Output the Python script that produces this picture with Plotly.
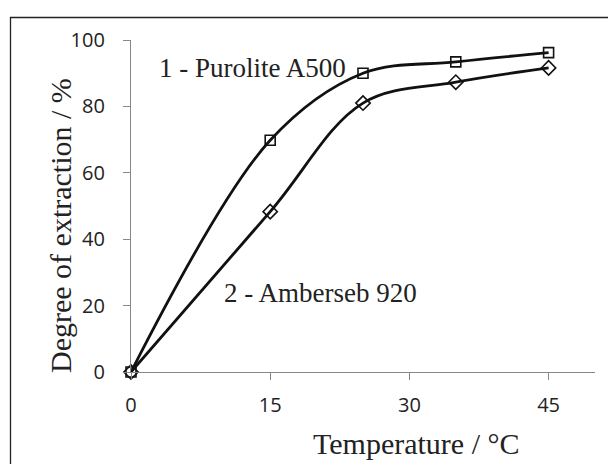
import plotly.graph_objects as go

temperature = [0, 15, 25, 35, 45]
purolite = [0, 69.8, 90.0, 93.4, 96.2]
amberseb = [0, 48.3, 81.0, 87.3, 91.6]
x_ticks = [0, 15, 30, 45]
y_ticks = [0, 20, 40, 60, 80, 100]

W, H = 616, 464
OFF = 8  # page body margin offset in the screenshot
L, R, T, B = 123, 29, 32, 100
pw, ph = W - L - R, H - T - B

def px(x):
    return (x - OFF - L) / pw

def py(y):
    return (H - B - (y - OFF)) / ph

fig = go.Figure()
fig.add_trace(go.Scatter(
    x=temperature, y=purolite, mode="lines+markers",
    line=dict(color="#111", width=2.8, shape="spline", smoothing=1.0),
    marker=dict(symbol="square-open", size=10, color="#111", line=dict(width=1.6)),
    cliponaxis=False, showlegend=False))
fig.add_trace(go.Scatter(
    x=temperature, y=amberseb, mode="lines+markers",
    line=dict(color="#111", width=2.8, shape="spline", smoothing=1.0),
    marker=dict(symbol="diamond-open", size=11, color="#111", line=dict(width=1.6)),
    cliponaxis=False, showlegend=False))

tickfont = dict(family="Open Sans, DejaVu Sans, sans-serif", size=20, color="#222")
fig.update_xaxes(range=[0, 50], tickvals=x_ticks, ticks="outside", ticklen=7,
                 tickcolor="#888", showline=True, linecolor="#888", linewidth=1.3,
                 showgrid=False, zeroline=False, tickfont=tickfont, ticklabelstandoff=8)
fig.update_yaxes(range=[0, 100], tickvals=y_ticks, ticks="outside", ticklen=7,
                 tickcolor="#888", showline=True, linecolor="#888", linewidth=1.3,
                 showgrid=False, zeroline=False, tickfont=tickfont, ticklabelstandoff=14)

serif_big = dict(family="Liberation Serif, Times New Roman, serif", size=30, color="#222")
serif = dict(family="Liberation Serif, Times New Roman, serif", size=27, color="#222")
fig.add_annotation(text="1 - Purolite A500", x=px(157), y=py(68), xref="paper", yref="paper",
                   xanchor="left", yanchor="middle", showarrow=False, font=serif)
fig.add_annotation(text="2 - Amberseb 920", x=px(222), y=py(293), xref="paper", yref="paper",
                   xanchor="left", yanchor="middle", showarrow=False, font=serif)
fig.add_annotation(text="Temperature / °C", x=px(416), y=py(443), xref="paper", yref="paper",
                   xanchor="center", yanchor="middle", showarrow=False, font=serif_big)
fig.add_annotation(text="Degree of extraction / %", x=px(60), y=py(226), xref="paper", yref="paper",
                   xanchor="center", yanchor="middle", showarrow=False, font=serif_big, textangle=-90)

fig.add_shape(type="rect", xref="paper", yref="paper",
              x0=px(10.5), x1=px(611), y0=py(480), y1=py(17.5),
              line=dict(color="#222", width=1.3), fillcolor="rgba(0,0,0,0)")

fig.update_layout(width=W, height=H, margin=dict(l=L, r=R, t=T, b=B),
                  plot_bgcolor="white", paper_bgcolor="white")
fig.write_html("out.html")
